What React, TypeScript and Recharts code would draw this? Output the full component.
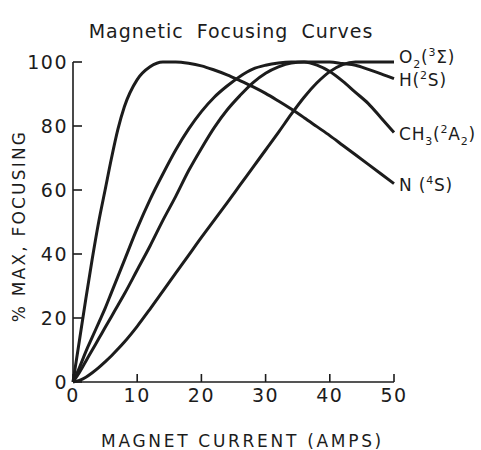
import { LineChart, Line, XAxis, YAxis } from "recharts";

// magnet current (amps) at which each curve was read
const currents = [0, 1, 2, 3, 4, 5, 6, 7, 8, 10, 12, 14, 16, 18, 20, 22, 24, 26, 28, 30, 32, 34, 36, 38, 40, 42, 44, 46, 48, 50];

// % of max focusing
const nFocus = [0, 13, 26, 38.5, 50, 60, 70, 79, 86, 94.5, 98.5, 100, 100, 99.6, 98.8, 97.5, 96, 94.2, 92.3, 90.2, 87.8, 85.3, 82.6, 79.8, 77, 74, 71, 68, 65, 62];
const hFocus = [0, 4.5, 9.5, 14, 18.5, 23, 28, 33, 38, 48, 57, 65, 72.5, 79, 84.5, 89, 92.5, 95.5, 97.8, 99, 99.7, 100, 100, 100, 100, 99.5, 99, 97.7, 96.3, 94.8];
const ch3Focus = [0, 3, 6.5, 10, 13.5, 17, 20.5, 24, 27.5, 35, 42.5, 50.5, 58, 66, 73, 79.5, 85, 89.5, 93.5, 96.5, 98.5, 99.7, 100, 99, 97, 94, 90.5, 87, 82.5, 78];
const o2Focus = [0, 0.5, 1.5, 2.9, 4.5, 6.3, 8.2, 10.3, 12.5, 17.4, 22.8, 28.4, 34, 39.6, 45.2, 50.6, 56, 61.5, 67, 72.5, 78, 83.7, 89, 93.5, 97, 99.2, 100, 100, 100, 100];

const xTicks = [0, 10, 20, 30, 40, 50];
const yTicks = [0, 20, 40, 60, 80, 100];

// series names, split into normal / sub / sup pieces
const o2Name = [["O"], ["2", "sub"], ["("], ["3", "sup"], ["Σ)"]];
const hName = [["H"], ["("], ["2", "sup"], ["S)"]];
const ch3Name = [["CH"], ["3", "sub"], ["("], ["2", "sup"], ["A"], ["2", "sub"], [")"]];
const nName = [["N ("], ["4", "sup"], ["S)"]];

const data = currents.map((c, i) => ({
  current: c,
  n: nFocus[i],
  h: hFocus[i],
  ch3: ch3Focus[i],
  o2: o2Focus[i],
}));

const INK = "#1c1c1c";
const FONT = "'DejaVu Sans', sans-serif";

const XTick = ({ x, y, payload }: any) => (
  <g>
    <line x1={x} y1={y} x2={x} y2={y - 8} stroke={INK} strokeWidth={1.6} />
    <text x={x} y={y + 20} textAnchor="middle" fill={INK} fontSize={19} fontFamily={FONT} letterSpacing={1.5}>
      {payload.value}
    </text>
  </g>
);

const YTick = ({ x, y, payload }: any) => (
  <g>
    <line x1={x} y1={y} x2={x + 9} y2={y} stroke={INK} strokeWidth={1.6} />
    <text x={x - 5} y={y + 7} textAnchor="end" fill={INK} fontSize={19} fontFamily={FONT} letterSpacing={1.5}>
      {payload.value}
    </text>
  </g>
);

function SeriesName({ x, y, parts }: { x: number; y: number; parts: string[][] }) {
  let shift = 0;
  return (
    <text x={x} y={y} fill={INK} fontSize={17} fontFamily={FONT} letterSpacing={0.8}>
      {parts.map(([t, kind], i) => {
        const target = kind === "sub" ? 5 : kind === "sup" ? -7 : 0;
        const dy = target - shift;
        shift = target;
        return (
          <tspan key={i} dy={dy} fontSize={kind ? 11 : 17}>
            {t}
          </tspan>
        );
      })}
    </text>
  );
}

const endLabel = (parts: string[][], dy: number) => (props: any) => {
  if (props.index !== currents.length - 1) return null;
  return <SeriesName x={props.x + 5} y={props.y + dy} parts={parts} />;
};

export default function App() {
  return (
    <div style={{ position: "absolute", left: 0, top: 0, width: 481, height: 450, background: "#fff" }}>
      <div
        style={{
          position: "absolute",
          left: 0,
          top: 22,
          width: 462,
          textAlign: "center",
          fontFamily: FONT,
          fontSize: 19,
          letterSpacing: 1,
          wordSpacing: 6,
          color: INK,
          lineHeight: 1,
        }}
      >
        Magnetic Focusing Curves
      </div>
      <LineChart width={481} height={450} data={data} margin={{ top: 62, right: 87, left: 0, bottom: 0 }}>
        <XAxis
          dataKey="current"
          type="number"
          domain={[0, 50]}
          ticks={xTicks}
          tick={<XTick />}
          tickSize={0}
          tickMargin={0}
          tickLine={false}
          height={68}
          axisLine={{ stroke: INK, strokeWidth: 1.6 }}
          label={{
            content: ({ viewBox }: any) => (
              <text
                x={viewBox.x + viewBox.width / 2 + 9}
                y={viewBox.y + 65}
                textAnchor="middle"
                fill={INK}
                fontSize={17}
                fontFamily={FONT}
                letterSpacing={2.7}
              >
                MAGNET CURRENT (AMPS)
              </text>
            ),
          }}
        />
        <YAxis
          type="number"
          domain={[0, 100]}
          ticks={yTicks}
          tick={<YTick />}
          tickSize={0}
          tickMargin={0}
          tickLine={false}
          width={73}
          axisLine={{ stroke: INK, strokeWidth: 1.6 }}
          label={{
            content: ({ viewBox }: any) => {
              const cx = viewBox.x + 19;
              const cy = viewBox.y + viewBox.height / 2 + 4;
              return (
                <text
                  x={cx}
                  y={cy}
                  transform={`rotate(-90 ${cx} ${cy})`}
                  textAnchor="middle"
                  dominantBaseline="central"
                  fill={INK}
                  fontSize={17}
                  fontFamily={FONT}
                  letterSpacing={2.2}
                >
                  % MAX, FOCUSING
                </text>
              );
            },
          }}
        />
        <Line dataKey="n" type="monotone" stroke={INK} strokeWidth={3} dot={false} isAnimationActive={false} label={endLabel(nName, 7)} />
        <Line dataKey="ch3" type="monotone" stroke={INK} strokeWidth={3} dot={false} isAnimationActive={false} label={endLabel(ch3Name, 8)} />
        <Line dataKey="h" type="monotone" stroke={INK} strokeWidth={3} dot={false} isAnimationActive={false} label={endLabel(hName, 7)} />
        <Line dataKey="o2" type="monotone" stroke={INK} strokeWidth={3} dot={false} isAnimationActive={false} label={endLabel(o2Name, 1)} />
      </LineChart>
    </div>
  );
}
